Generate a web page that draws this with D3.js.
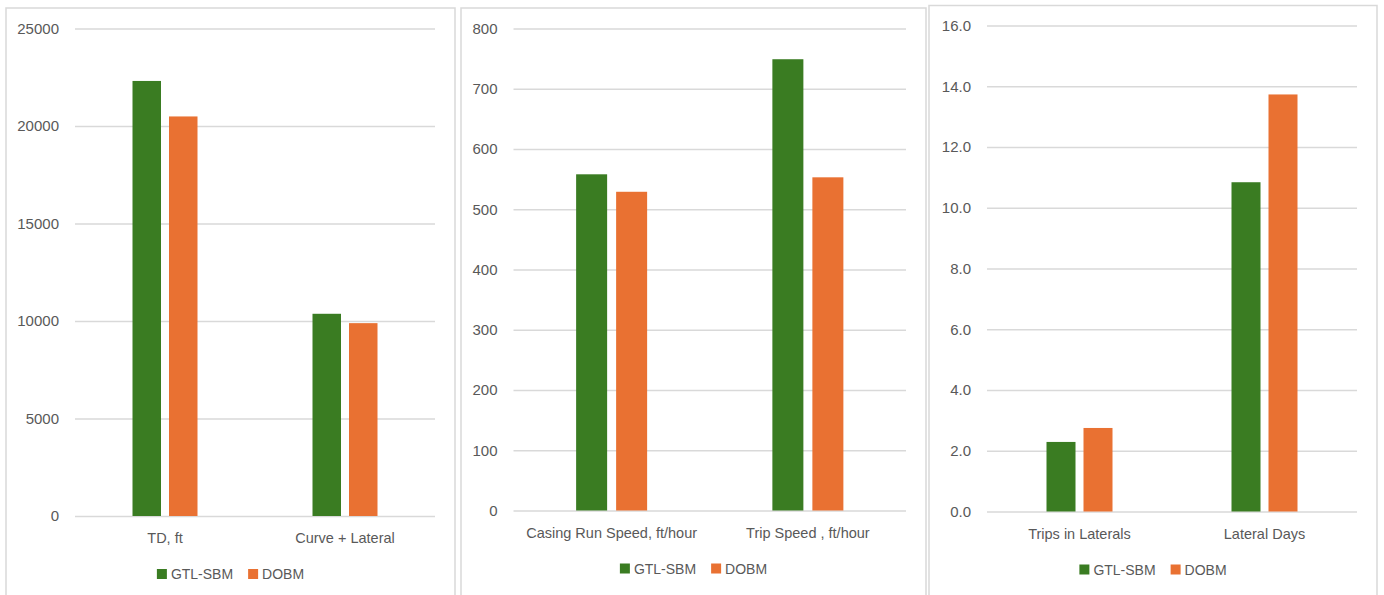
<!DOCTYPE html>
<html>
<head>
<meta charset="utf-8">
<script src="https://cdn.jsdelivr.net/npm/d3@7"></script>
<style>
  html, body { margin: 0; padding: 0; background: #ffffff; }
  svg { display: block; }
  text { font-family: "Liberation Sans", Arial, sans-serif; fill: #595959; }
</style>
</head>
<body>
<svg id="chart" width="1384" height="595"></svg>
<script>
// Series shared by all three panels
const seriesNames = ["GTL-SBM", "DOBM"];
const seriesColors = ["#3a7c22", "#e97132"];

// Panel 1: depths
const depthCategories = ["TD, ft", "Curve + Lateral"];
const depthGTL = [22310, 10370];
const depthDOBM = [20490, 9890];
const depthTicks = [0, 5000, 10000, 15000, 20000, 25000];

// Panel 2: running speeds
const speedCategories = ["Casing Run Speed, ft/hour", "Trip Speed , ft/hour"];
const speedGTL = [558, 749];
const speedDOBM = [529, 553];
const speedTicks = [0, 100, 200, 300, 400, 500, 600, 700, 800];

// Panel 3: lateral statistics
const lateralCategories = ["Trips in Laterals", "Lateral Days"];
const lateralGTL = [2.29, 10.84];
const lateralDOBM = [2.75, 13.73];
const lateralTicks = [0, 2, 4, 6, 8, 10, 12, 14, 16];

const panels = [
  { categories: depthCategories, values: [depthGTL, depthDOBM], ticks: depthTicks, fmt: d3.format("d"),
    frame: [6, 8, 455], plot: [75, 435, 28.5, 516], barW: 28.5, gap: 8 },
  { categories: speedCategories, values: [speedGTL, speedDOBM], ticks: speedTicks, fmt: d3.format("d"),
    frame: [461, 8, 926], plot: [513.5, 906, 28.5, 510.5], barW: 31, gap: 9 },
  { categories: lateralCategories, values: [lateralGTL, lateralDOBM], ticks: lateralTicks, fmt: d3.format(".1f"),
    frame: [929, 5.5, 1377], plot: [987, 1357, 25.5, 511.5], barW: 29, gap: 8 }
];

const svg = d3.select("#chart");

panels.forEach(p => {
  const g = svg.append("g");
  const [fx0, fy0, fx1] = p.frame;
  const [px0, px1, pyTop, pyBot] = p.plot;

  // chart frame (open at the bottom edge of the page)
  g.append("path")
    .attr("d", `M${fx0},600 L${fx0},${fy0} L${fx1},${fy0} L${fx1},600`)
    .attr("fill", "none")
    .attr("stroke", "#d9d9d9")
    .attr("stroke-width", 1.5);

  const y = d3.scaleLinear()
    .domain([p.ticks[0], p.ticks[p.ticks.length - 1]])
    .range([pyBot, pyTop]);

  const x0 = d3.scaleBand().domain(p.categories).range([px0, px1]);
  const groupW = 2 * p.barW + p.gap;
  const x1 = d3.scaleBand().domain(seriesNames)
    .range([0, groupW])
    .paddingInner(p.gap / (p.barW + p.gap))
    .paddingOuter(0);

  // gridlines
  const yAxis = d3.axisLeft(y).tickValues(p.ticks).tickSize(-(px1 - px0)).tickFormat(p.fmt).tickPadding(16);
  const ag = g.append("g").attr("transform", `translate(${px0},0)`).call(yAxis);
  ag.select(".domain").remove();
  ag.selectAll(".tick line").attr("stroke", "#d9d9d9").attr("stroke-width", 1.3);
  ag.selectAll(".tick text")
    .attr("x", -16)
    .attr("fill", "#595959")
    .style("font-size", "15px")
    .style("font-family", "'Liberation Sans', Arial, sans-serif");

  // bars
  p.categories.forEach((cat, ci) => {
    const gx = x0(cat) + x0.bandwidth() / 2 - groupW / 2;
    seriesNames.forEach((s, si) => {
      const v = p.values[si][ci];
      g.append("rect")
        .attr("x", gx + x1(s))
        .attr("y", y(v))
        .attr("width", x1.bandwidth())
        .attr("height", y(0) - y(v))
        .attr("fill", seriesColors[si]);
    });
  });

  // category labels
  const xAxis = d3.axisBottom(x0).tickSize(0).tickPadding(0);
  const xg = g.append("g").attr("transform", `translate(0,${pyBot})`).call(xAxis);
  xg.select(".domain").remove();
  xg.selectAll(".tick text")
    .attr("y", 27)
    .attr("dy", 0)
    .attr("fill", "#595959")
    .style("font-size", "14.5px")
    .style("font-family", "'Liberation Sans', Arial, sans-serif");

  // legend, centred in the frame
  const lg = g.append("g");
  const ly = pyBot + 58;
  let cx = 0;
  seriesNames.forEach((s, si) => {
    lg.append("rect").attr("x", cx).attr("y", ly - 5).attr("width", 10).attr("height", 10).attr("fill", seriesColors[si]);
    const t = lg.append("text").attr("x", cx + 14).attr("y", ly + 5).style("font-size", "14px").text(s);
    cx += 14 + t.node().getComputedTextLength() + (si < seriesNames.length - 1 ? 15 : 0);
  });
  const center = (fx0 + fx1) / 2;
  lg.attr("transform", `translate(${center - cx / 2},0)`);
});
</script>
</body>
</html>
